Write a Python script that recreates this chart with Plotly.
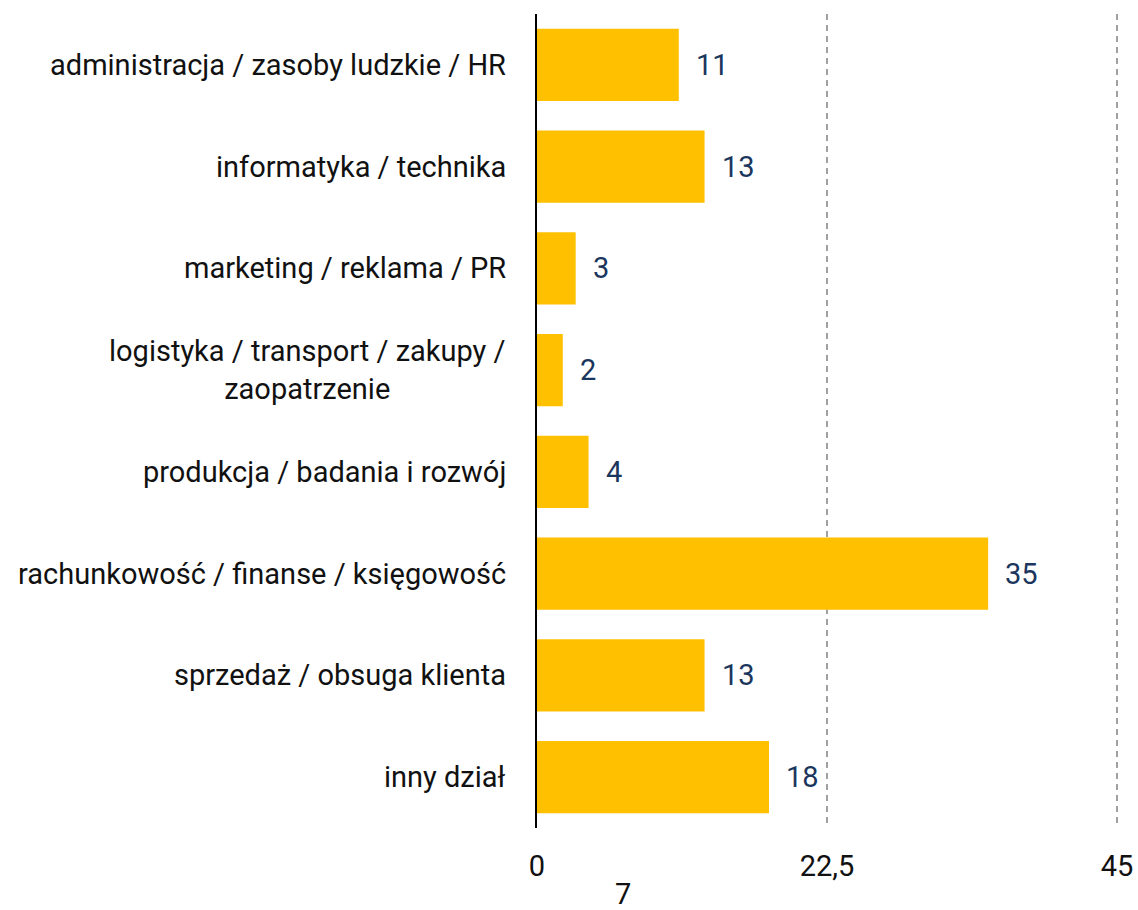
import plotly.graph_objects as go

categories = [
    "administracja / zasoby ludzkie / HR",
    "informatyka / technika",
    "marketing / reklama / PR",
    "logistyka / transport / zakupy /<br>zaopatrzenie",
    "produkcja / badania i rozwój",
    "rachunkowość / finanse / księgowość",
    "sprzedaż / obsuga klienta",
    "inny dział",
]
values = [11, 13, 3, 2, 4, 35, 13, 18]
tick_vals = [0, 22.5, 45]
tick_text = ["0", "22,5", "45"]
axis_note = "7"

FONT = "Roboto"
SIZE = 29
BAR = "#FFC000"
NAVY = "#1B365D"

fig = go.Figure()
fig.add_trace(go.Bar(
    x=values, y=categories, orientation="h",
    marker=dict(color=BAR, line=dict(width=0)),
    hoverinfo="skip",
))

# category labels (centered multi-line text)
for c in categories:
    fig.add_annotation(x=0, xref="paper", y=c, yref="y", text=c,
                       xanchor="right", align="center", xshift=-29,
                       showarrow=False, font=dict(family=FONT, size=SIZE, color="#111111"))

# value labels
for c, v in zip(categories, values):
    fig.add_annotation(x=v, y=c, text=str(v), xanchor="left", xshift=15,
                       showarrow=False, font=dict(family=FONT, size=SIZE, color=NAVY))

fig.add_annotation(x=(623 - 537) / 580, xref="paper", y=-66 / 814, yref="paper",
                   text=axis_note, showarrow=False, xanchor="center", yanchor="middle",
                   font=dict(family=FONT, size=SIZE, color="#111111"))

fig.update_layout(
    width=1138, height=910,
    margin=dict(l=537, r=19, t=14, b=82, autoexpand=False),
    plot_bgcolor="white", paper_bgcolor="white",
    bargap=0.29, showlegend=False,
    font=dict(family=FONT, size=SIZE, color="#111111"),
)
# range a bit past 45 so the last gridline is not dropped at the edge
fig.update_xaxes(range=[0, 45.15], tickvals=tick_vals, ticktext=tick_text,
                 showgrid=True, gridcolor="#a0a0a0", gridwidth=2, griddash="6px,5px",
                 zeroline=False, showline=False, ticks="", ticklabelstandoff=18,
                 automargin=False,
                 tickfont=dict(family=FONT, size=SIZE, color="#111111"))
fig.update_yaxes(autorange="reversed", showticklabels=False, showgrid=False,
                 showline=True, linecolor="black", linewidth=2, zeroline=False)

fig.write_html("out.html", config={"displayModeBar": False},
               post_script="document.body.style.margin='0';")
